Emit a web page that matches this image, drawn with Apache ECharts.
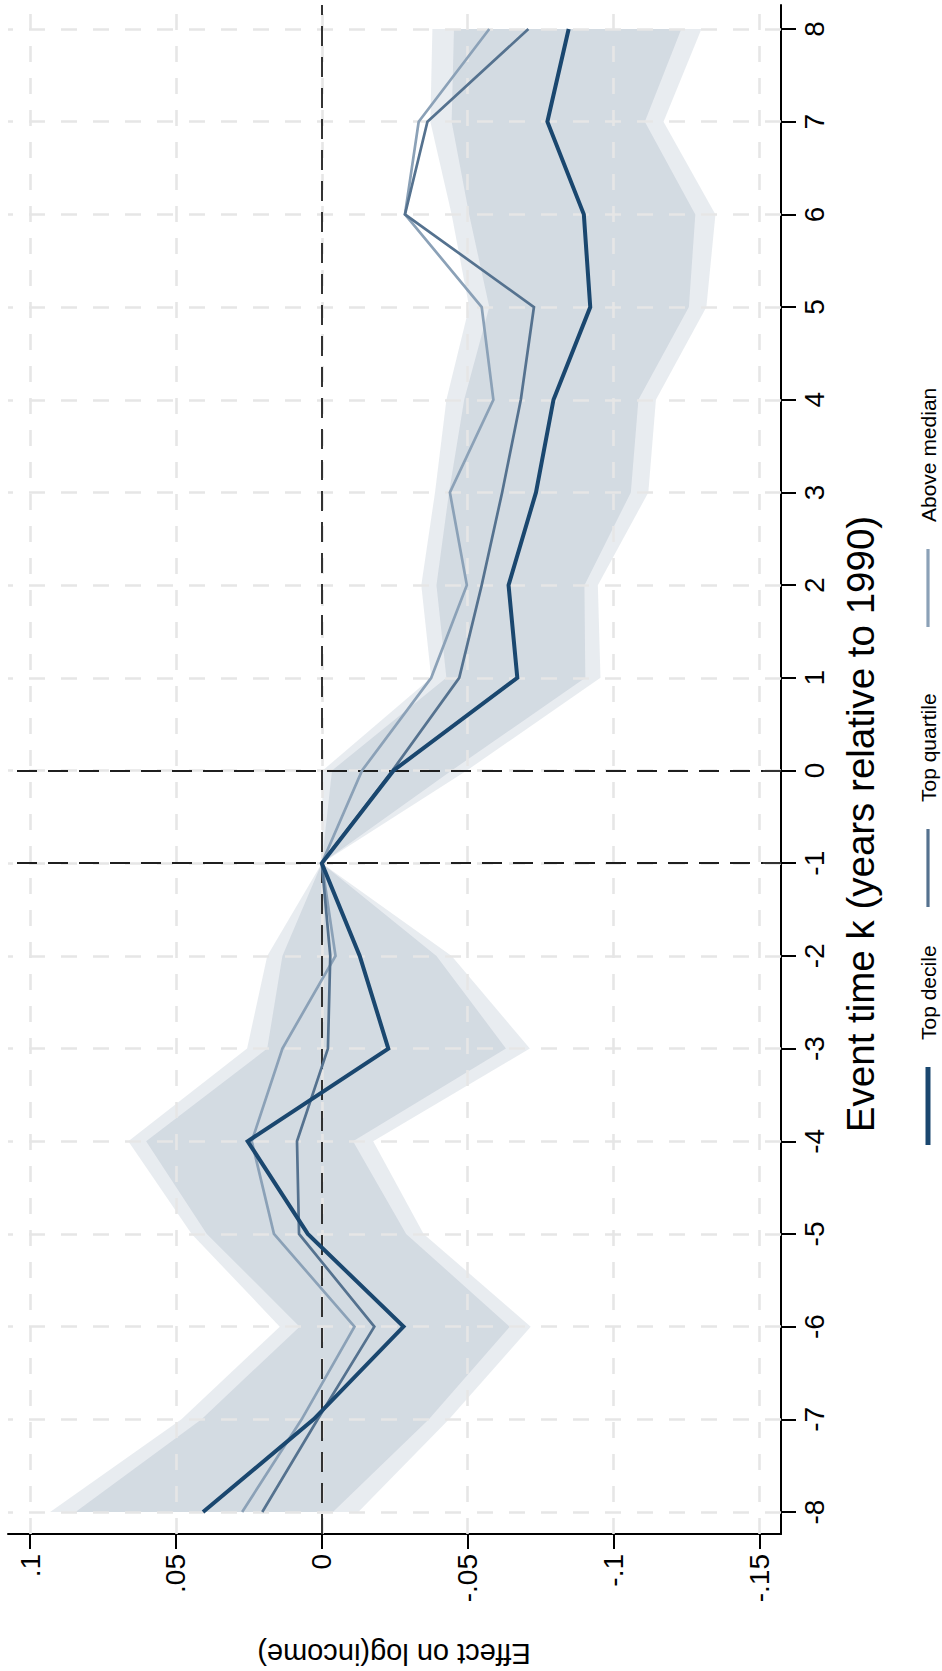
<!DOCTYPE html>
<html>
<head>
<meta charset="utf-8">
<script src="https://cdn.jsdelivr.net/npm/echarts@6/dist/echarts.min.js"></script>
<style>
html,body{margin:0;padding:0;background:#ffffff;}
#chart{width:942px;height:1671px;}
</style>
</head>
<body>
<div id="chart"></div>
<script>
// ---------------- data ----------------
const eventTime = [-8,-7,-6,-5,-4,-3,-2,-1,0,1,2,3,4,5,6,7,8];
const effectTicks = [0.1,0.05,0,-0.05,-0.1,-0.15];
const referenceEventTimes = [-1, 0];
const referenceEffect = [0];

const topDecile   = [0.0407,0.0028,-0.0280,0.0048,0.0254,-0.0228,-0.0130,0,-0.0246,-0.0670,-0.0640,-0.0734,-0.0794,-0.0920,-0.0898,-0.0773,-0.0846];
const topQuartile = [0.0204,0.0014,-0.0180,0.0078,0.0085,-0.0021,-0.0029,0,-0.0242,-0.0471,-0.0548,-0.0618,-0.0682,-0.0727,-0.0285,-0.0362,-0.0708];
const aboveMedian = [0.0273,0.0069,-0.0112,0.0164,0.0240,0.0135,-0.0047,0,-0.0138,-0.0375,-0.0497,-0.0439,-0.0588,-0.0548,-0.0285,-0.0332,-0.0574];

// confidence bands of the top-decile estimate
const ciOuterUpper = [0.0931,0.0481,0.0144,0.0446,0.0663,0.0256,0.0187,0,-0.0003,-0.0375,-0.0341,-0.0388,-0.0427,-0.0505,-0.0445,-0.0372,-0.0379];
const ciOuterLower = [-0.0125,-0.0436,-0.0716,-0.0349,-0.0176,-0.0713,-0.0445,0,-0.0497,-0.0955,-0.0946,-0.1119,-0.1145,-0.1318,-0.1349,-0.1171,-0.1301];
const ciInnerUpper = [0.0844,0.0412,0.0076,0.0394,0.0602,0.0187,0.0135,0,-0.0035,-0.0427,-0.0393,-0.0436,-0.0488,-0.0574,-0.0505,-0.0445,-0.0453];
const ciInnerLower = [-0.0038,-0.0367,-0.0644,-0.0289,-0.0107,-0.0631,-0.0393,0,-0.0445,-0.0903,-0.0900,-0.1059,-0.1085,-0.1258,-0.1280,-0.1107,-0.1232];

const seriesNames = ['Top decile','Top quartile','Above median'];
const xTitle = 'Event time k (years relative to 1990)';
const yTitle = 'Effect on log(income)';

// ---------------- layout / style ----------------
const W = 942, H = 1671;
const FONT = "'Liberation Sans', Arial, Helvetica, sans-serif";
const IN = {left: 30, right: 182.5, top: 29, bottom: 159};   // tick extent
const OUT = {left: 8, right: 161, top: 5, bottom: 137};      // frame extent
const effMin = -0.15, effMax = 0.1, effStep = 0.05;
const kMin = -8, kMax = 8;
const xPerPx = (effMax - effMin) / (W - IN.left - IN.right);
const yPerPx = (kMax - kMin) / (H - IN.top - IN.bottom);
const outXMax = effMax + (IN.left - OUT.left) * xPerPx;
const outXMin = effMin - (IN.right - OUT.right) * xPerPx;
const outYMax = kMax + (IN.top - OUT.top) * yPerPx;
const outYMin = kMin - (IN.bottom - OUT.bottom) * yPerPx;

const colors = ['#1a476f', '#55728f', '#8ba1b7'];
const widths = [4, 2.7, 2.7];
const bandFill = 'rgba(26,71,111,0.10)';
const gridStyle = {color: '#e6e6e6', width: 2.6, type: [16, 16]};
const refStyle = {color: '#1f1f1f', width: 1.8, type: [20, 11]};

function fmtEffect(v) {
  const r = Math.round(v * 100) / 100;
  if (r === 0) return '0';
  return String(r).replace('0.', '.');
}

const chart = echarts.init(document.getElementById('chart'), null, {renderer: 'svg', width: W, height: H});

function bandSeries(upper, lower, name) {
  return {
    type: 'custom', name: name, xAxisIndex: 0, yAxisIndex: 0, z: 2,
    silent: true, animation: false,
    data: [[0, 0]],
    renderItem: function (params, api) {
      const pts = [];
      for (let i = 0; i < eventTime.length; i++) pts.push(api.coord([upper[i], eventTime[i]]));
      for (let i = eventTime.length - 1; i >= 0; i--) pts.push(api.coord([lower[i], eventTime[i]]));
      return {type: 'polygon', shape: {points: pts}, style: {fill: bandFill, stroke: null}};
    }
  };
}

function lineSeries(idx, values) {
  return {
    type: 'line', name: seriesNames[idx], xAxisIndex: 0, yAxisIndex: 0,
    z: 10 - idx, animation: false, showSymbol: false, symbol: 'none',
    data: eventTime.map((k, i) => [values[i], k]),
    lineStyle: {color: colors[idx], width: widths[idx], join: 'miter'},
    itemStyle: {color: colors[idx]}
  };
}

const gridMarks = [];
effectTicks.forEach(v => gridMarks.push({xAxis: v, lineStyle: gridStyle}));
eventTime.forEach(k => gridMarks.push({yAxis: k, lineStyle: gridStyle}));
const refMarks = [];
referenceEffect.forEach(v => refMarks.push({xAxis: v, lineStyle: refStyle}));
referenceEventTimes.forEach(k => refMarks.push({yAxis: k, lineStyle: refStyle}));

function markSeries(marks, z) {
  return {
    type: 'line', xAxisIndex: 1, yAxisIndex: 1, z: z, silent: true, animation: false,
    data: [[0, 0]], showSymbol: false, symbol: 'none', lineStyle: {opacity: 0, width: 0},
    markLine: {silent: true, animation: false, symbol: ['none', 'none'], label: {show: false},
      emphasis: {disabled: true}, data: marks}
  };
}

// legend drawn as rotated text (reads bottom-to-top like the reference)
const legendChildren = [];
const legendStarts = [0, 238, 518], symLen = 78, symGap = 27;
seriesNames.forEach((nm, i) => {
  const x0 = legendStarts[i];
  legendChildren.push({type: 'line', shape: {x1: x0, y1: 0, x2: x0 + symLen, y2: 0},
    style: {stroke: colors[i], lineWidth: i === 0 ? 5 : 3.2}});
  legendChildren.push({type: 'text', x: x0 + symLen + symGap, y: 0,
    style: {text: nm, fill: '#000', font: '21px ' + FONT, align: 'left', verticalAlign: 'middle'}});
});

const option = {
  backgroundColor: '#ffffff',
  animation: false,
  grid: [
    {left: IN.left, right: IN.right, top: IN.top, bottom: IN.bottom, containLabel: false},
    {left: OUT.left, right: OUT.right, top: OUT.top, bottom: OUT.bottom, containLabel: false}
  ],
  xAxis: [
    {gridIndex: 0, type: 'value', inverse: true, min: effMin, max: effMax, interval: effStep,
      position: 'bottom', offset: IN.bottom - OUT.bottom,
      axisLine: {show: false, onZero: false},
      axisTick: {show: true, length: 15, lineStyle: {color: '#000', width: 2}},
      axisLabel: {rotate: 90, margin: 20, fontSize: 28, color: '#000', fontFamily: FONT, formatter: fmtEffect},
      splitLine: {show: false}},
    {gridIndex: 1, type: 'value', inverse: true, min: outXMin, max: outXMax, position: 'bottom',
      axisLine: {show: true, onZero: false, lineStyle: {color: '#000', width: 2}},
      axisTick: {show: false}, axisLabel: {show: false}, splitLine: {show: false}}
  ],
  yAxis: [
    {gridIndex: 0, type: 'value', min: kMin, max: kMax, interval: 1,
      position: 'right', offset: IN.right - OUT.right,
      axisLine: {show: false, onZero: false},
      axisTick: {show: true, length: 15, lineStyle: {color: '#000', width: 2}},
      axisLabel: {rotate: 90, margin: 19, fontSize: 28, color: '#000', fontFamily: FONT},
      splitLine: {show: false}},
    {gridIndex: 1, type: 'value', min: outYMin, max: outYMax, position: 'right',
      axisLine: {show: true, onZero: false, lineStyle: {color: '#000', width: 2}},
      axisTick: {show: false}, axisLabel: {show: false}, splitLine: {show: false}}
  ],
  series: [
    markSeries(gridMarks, 1),
    bandSeries(ciOuterUpper, ciOuterLower, 'CI outer'),
    bandSeries(ciInnerUpper, ciInnerLower, 'CI inner'),
    markSeries(refMarks, 3),
    lineSeries(2, aboveMedian),
    lineSeries(1, topQuartile),
    lineSeries(0, topDecile)
  ],
  graphic: [
    {type: 'text', x: 394, y: 1654, rotation: Math.PI,
      style: {text: yTitle, fill: '#000', font: '29px ' + FONT, align: 'center', verticalAlign: 'middle'}},
    {type: 'text', x: 860, y: 824, rotation: Math.PI / 2,
      style: {text: xTitle, fill: '#000', font: '38.5px ' + FONT, align: 'center', verticalAlign: 'middle'}},
    {type: 'group', x: 928, y: 1145, rotation: Math.PI / 2, children: legendChildren}
  ]
};
chart.setOption(option);
</script>
</body>
</html>
